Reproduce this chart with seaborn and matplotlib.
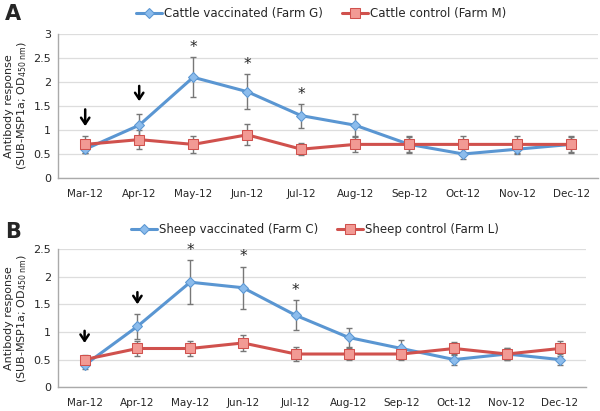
import numpy as np
import matplotlib
matplotlib.use("Agg")
import matplotlib.pyplot as plt
import pandas as pd
import seaborn as sns

months = ["Mar-12", "Apr-12", "May-12", "Jun-12", "Jul-12", "Aug-12",
          "Sep-12", "Oct-12", "Nov-12", "Dec-12"]

# panel A - cattle
cattle_vac = [0.6, 1.1, 2.1, 1.8, 1.3, 1.1, 0.7, 0.5, 0.6, 0.7]
cattle_vac_err = [0.08, 0.23, 0.42, 0.37, 0.25, 0.23, 0.15, 0.1, 0.1, 0.15]
cattle_ctl = [0.7, 0.8, 0.7, 0.9, 0.6, 0.7, 0.7, 0.7, 0.7, 0.7]
cattle_ctl_err = [0.18, 0.2, 0.17, 0.22, 0.12, 0.15, 0.17, 0.17, 0.17, 0.17]

# panel B - sheep
sheep_vac = [0.4, 1.1, 1.9, 1.8, 1.3, 0.9, 0.7, 0.5, 0.6, 0.5]
sheep_vac_err = [0.07, 0.23, 0.4, 0.38, 0.27, 0.18, 0.15, 0.1, 0.1, 0.1]
sheep_ctl = [0.5, 0.7, 0.7, 0.8, 0.6, 0.6, 0.6, 0.7, 0.6, 0.7]
sheep_ctl_err = [0.08, 0.13, 0.13, 0.15, 0.12, 0.1, 0.1, 0.12, 0.1, 0.13]

star_months = ["May-12", "Jun-12", "Jul-12"]
arrow_months = ["Mar-12", "Apr-12"]

blue = "#5a96d2"
red = "#d0514d"
sns.set_style("white")
plt.rcParams["font.family"] = ["DejaVu Sans"]

fig = plt.figure(figsize=(6, 4.11), dpi=100)
axA = fig.add_axes([0.097, 0.567, 0.9, 0.350])
axB = fig.add_axes([0.097, 0.058, 0.88, 0.336])


def style_marks(lines):
    for line in lines:
        c = line.get_color()
        if c == blue:
            line.set_markerfacecolor("#8cbcec")
            line.set_markeredgecolor(blue)
            line.set_markersize(5)
        elif c == red:
            line.set_markerfacecolor("#f29a94")
            line.set_markeredgecolor(red)
            line.set_markersize(6.5)


def panel(ax, vac, vac_err, ctl, ctl_err, lab_vac, lab_ctl, ymax, arrow_y, star_off):
    df = pd.DataFrame({
        "month": months * 2,
        "value": vac + ctl,
        "group": [lab_vac] * len(months) + [lab_ctl] * len(months),
    })
    x = np.arange(len(months))
    ax.errorbar(x, vac, yerr=vac_err, fmt="none", ecolor="#777777",
                elinewidth=1, capsize=2.5, zorder=2)
    ax.errorbar(x, ctl, yerr=ctl_err, fmt="none", ecolor="#777777",
                elinewidth=1, capsize=2.5, zorder=2)
    sns.lineplot(data=df, x="month", y="value", hue="group", style="group",
                 markers={lab_vac: "D", lab_ctl: "s"}, dashes=False,
                 palette={lab_vac: blue, lab_ctl: red}, lw=2.2, ax=ax,
                 zorder=3, sort=False)
    style_marks(ax.get_lines())

    ax.set_ylim(0, ymax)
    ax.set_xlim(-0.5, len(months) - 0.5)
    yt = np.arange(0, ymax + 0.01, 0.5)
    ax.set_yticks(yt)
    ax.set_yticklabels([f"{v:g}" for v in yt], fontsize=8)
    ax.set_xticks(x)
    ax.set_xticklabels(months, fontsize=7.5)
    ax.set_xticks(np.arange(-0.5, len(months)), minor=True)
    ax.tick_params(axis="x", which="major", length=0, pad=8)
    ax.tick_params(axis="x", which="minor", length=4, color="#999999")
    ax.tick_params(axis="y", length=0, pad=5)
    ax.yaxis.grid(True, color="#dddddd", lw=0.9)
    ax.set_axisbelow(True)
    for s in ["top", "right"]:
        ax.spines[s].set_visible(False)
    for s in ["left", "bottom"]:
        ax.spines[s].set_color("#aaaaaa")
        ax.spines[s].set_linewidth(1)
    ax.set_xlabel("")
    ax.set_ylabel("Antibody response\n(SUB-MSP1a; OD$_{450\\ \\mathrm{nm}}$)",
                  fontsize=8, linespacing=1.15)
    ax.yaxis.set_label_coords(-29 / (ax.get_position().width * 600), 0.5)

    for m in star_months:
        i = months.index(m)
        ax.text(i, vac[i] + vac_err[i] + star_off, "*", ha="center",
                va="center", fontsize=11)
    for m, (y0, y1) in zip(arrow_months, arrow_y):
        i = months.index(m)
        ax.annotate("", xy=(i, y1), xytext=(i, y0),
                    arrowprops=dict(arrowstyle="->,head_width=0.3,head_length=0.45",
                                    lw=1.8, color="black", shrinkA=0, shrinkB=0))

    h, l = ax.get_legend_handles_labels()
    style_marks(h)
    ax.get_legend().remove()
    return h, l


hA, lA = panel(axA, cattle_vac, cattle_vac_err, cattle_ctl, cattle_ctl_err,
               "Cattle vaccinated (Farm G)", "Cattle control (Farm M)", 3,
               [(1.43, 1.08), (1.92, 1.6)], 0.2)
hB, lB = panel(axB, sheep_vac, sheep_vac_err, sheep_ctl, sheep_ctl_err,
               "Sheep vaccinated (Farm C)", "Sheep control (Farm L)", 2.5,
               [(1.02, 0.8), (1.72, 1.5)], 0.18)

fig.legend(hA, lA, loc="center", bbox_to_anchor=(0.535, 0.968), ncol=2,
           frameon=False, fontsize=8.5, handlelength=2.2, handletextpad=0.2,
           columnspacing=1.6)
fig.legend(hB, lB, loc="center", bbox_to_anchor=(0.525, 0.442), ncol=2,
           frameon=False, fontsize=8.5, handlelength=2.2, handletextpad=0.2,
           columnspacing=1.6)

fig.text(0.008, 0.965, "A", fontsize=15, fontweight="bold", va="center")
fig.text(0.008, 0.435, "B", fontsize=15, fontweight="bold", va="center")

fig.savefig("out.png", dpi=100)
